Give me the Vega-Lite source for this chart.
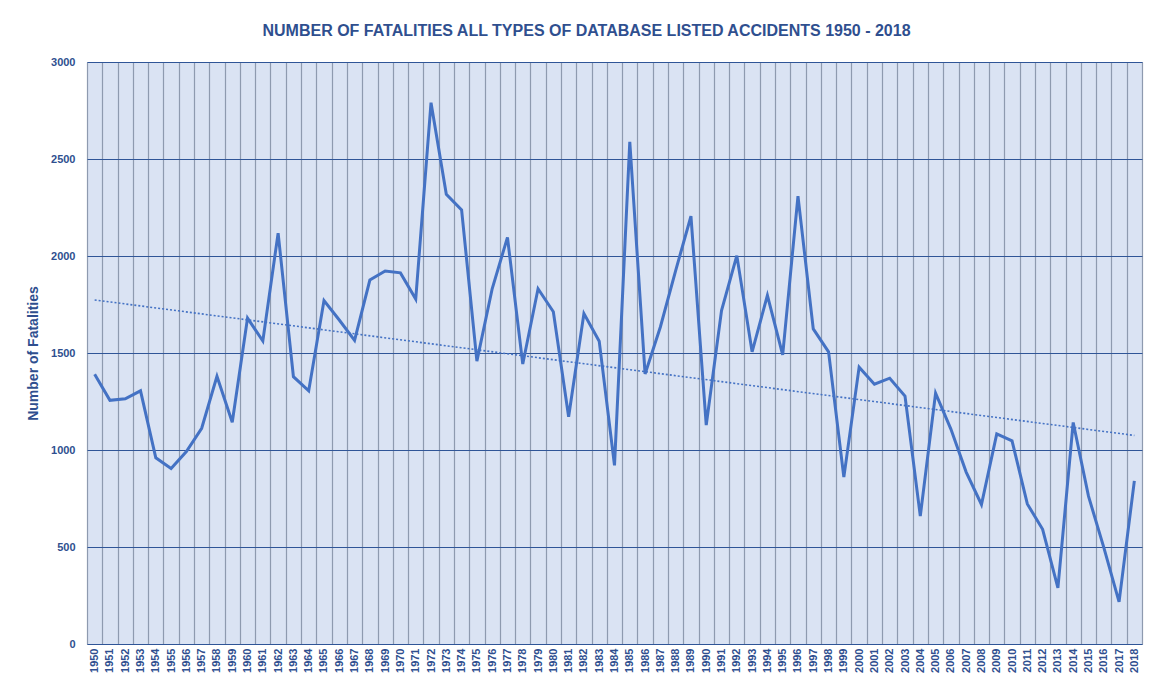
{
  "$schema": "https://vega.github.io/schema/vega-lite/v6.json",
  "width": 1055,
  "height": 582,
  "autosize": "none",
  "padding": {"left": 87, "top": 62, "right": 7, "bottom": 36},
  "background": "white",
  "title": {
    "text": "NUMBER OF FATALITIES ALL TYPES OF DATABASE LISTED ACCIDENTS 1950 - 2018",
    "font": "Liberation Sans Narrow, Liberation Sans",
    "fontSize": 16,
    "fontWeight": "bold",
    "color": "#2F4F8F",
    "anchor": "middle",
    "offset": 17,
    "dx": -28
  },
  "config": {
    "view": {"fill": "#DAE3F3", "stroke": "#8E9AAF", "strokeWidth": 1},
    "font": "Liberation Sans Narrow, Liberation Sans"
  },
  "data": {
    "values": [
      {"year": 1950, "fatalities": 1390},
      {"year": 1951, "fatalities": 1256},
      {"year": 1952, "fatalities": 1264},
      {"year": 1953, "fatalities": 1305},
      {"year": 1954, "fatalities": 960},
      {"year": 1955, "fatalities": 905},
      {"year": 1956, "fatalities": 992},
      {"year": 1957, "fatalities": 1112},
      {"year": 1958, "fatalities": 1380},
      {"year": 1959, "fatalities": 1143},
      {"year": 1960, "fatalities": 1680},
      {"year": 1961, "fatalities": 1562},
      {"year": 1962, "fatalities": 2118},
      {"year": 1963, "fatalities": 1378},
      {"year": 1964, "fatalities": 1305},
      {"year": 1965, "fatalities": 1770},
      {"year": 1966, "fatalities": 1670},
      {"year": 1967, "fatalities": 1565},
      {"year": 1968, "fatalities": 1876},
      {"year": 1969, "fatalities": 1923},
      {"year": 1970, "fatalities": 1913},
      {"year": 1971, "fatalities": 1778},
      {"year": 1972, "fatalities": 2790},
      {"year": 1973, "fatalities": 2318},
      {"year": 1974, "fatalities": 2238},
      {"year": 1975, "fatalities": 1458},
      {"year": 1976, "fatalities": 1831},
      {"year": 1977, "fatalities": 2096},
      {"year": 1978, "fatalities": 1443},
      {"year": 1979, "fatalities": 1831},
      {"year": 1980, "fatalities": 1713},
      {"year": 1981, "fatalities": 1171},
      {"year": 1982, "fatalities": 1703},
      {"year": 1983, "fatalities": 1561},
      {"year": 1984, "fatalities": 921},
      {"year": 1985, "fatalities": 2588},
      {"year": 1986, "fatalities": 1392},
      {"year": 1987, "fatalities": 1634},
      {"year": 1988, "fatalities": 1925},
      {"year": 1989, "fatalities": 2205},
      {"year": 1990, "fatalities": 1128},
      {"year": 1991, "fatalities": 1719},
      {"year": 1992, "fatalities": 2002},
      {"year": 1993, "fatalities": 1506},
      {"year": 1994, "fatalities": 1797},
      {"year": 1995, "fatalities": 1490},
      {"year": 1996, "fatalities": 2309},
      {"year": 1997, "fatalities": 1624},
      {"year": 1998, "fatalities": 1506},
      {"year": 1999, "fatalities": 860},
      {"year": 2000, "fatalities": 1427},
      {"year": 2001, "fatalities": 1339},
      {"year": 2002, "fatalities": 1370},
      {"year": 2003, "fatalities": 1278},
      {"year": 2004, "fatalities": 659},
      {"year": 2005, "fatalities": 1293},
      {"year": 2006, "fatalities": 1108},
      {"year": 2007, "fatalities": 886},
      {"year": 2008, "fatalities": 719},
      {"year": 2009, "fatalities": 1083},
      {"year": 2010, "fatalities": 1047},
      {"year": 2011, "fatalities": 722},
      {"year": 2012, "fatalities": 591},
      {"year": 2013, "fatalities": 289},
      {"year": 2014, "fatalities": 1142},
      {"year": 2015, "fatalities": 762},
      {"year": 2016, "fatalities": 498},
      {"year": 2017, "fatalities": 217},
      {"year": 2018, "fatalities": 841}
    ]
  },
  "encoding": {
    "x": {
      "field": "year",
      "type": "ordinal",
      "bandPosition": 0.5,
      "scale": {"type": "band", "paddingInner": 0, "paddingOuter": 0},
      "axis": {
        "title": null,
        "labelAngle": 270,
        "labelAlign": "right",
        "labelBaseline": "middle",
        "labelFontSize": 11,
        "labelFontWeight": "bold",
        "labelColor": "#2F4F8F",
        "labelPadding": 4,
        "ticks": false,
        "domain": false,
        "tickBand": "extent",
        "grid": true,
        "gridColor": "#8E9AAF",
        "gridWidth": 1.2
      }
    },
    "y": {
      "field": "fatalities",
      "type": "quantitative",
      "scale": {"domain": [0, 3000], "nice": false},
      "axis": {
        "title": "Number of Fatalities",
        "titleFontSize": 14,
        "titleFontWeight": "bold",
        "titleColor": "#2F4F8F",
        "titlePadding": 10,
        "format": "d",
        "values": [0, 500, 1000, 1500, 2000, 2500, 3000],
        "labelFontSize": 11,
        "labelFontWeight": "bold",
        "labelColor": "#2F4F8F",
        "labelPadding": 12,
        "ticks": false,
        "domain": false,
        "grid": true,
        "gridColor": "#2F5597",
        "gridWidth": 1.2
      }
    }
  },
  "layer": [
    {
      "mark": {"type": "line", "color": "#4472C4", "strokeWidth": 3, "strokeJoin": "miter"}
    },
    {
      "transform": [{"regression": "fatalities", "on": "year"}],
      "mark": {"type": "line", "color": "#4472C4", "strokeWidth": 1.6, "strokeDash": [2, 2]}
    }
  ]
}
